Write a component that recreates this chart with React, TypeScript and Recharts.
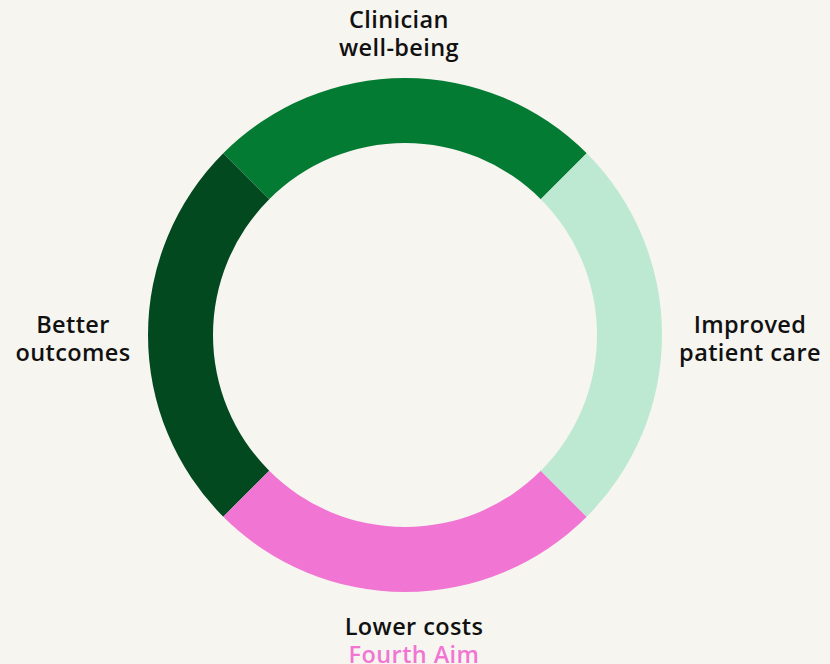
import { PieChart, Pie, Cell } from "recharts";

const aims = ["Clinician well-being", "Better outcomes", "Lower costs", "Improved patient care"];
const shares = [25, 25, 25, 25];
const labelLines = [
  ["Clinician", "well-being"],
  ["Better", "outcomes"],
  ["Lower costs", "Fourth Aim"],
  ["Improved", "patient care"],
];
const COLORS = ["#037B33", "#03491F", "#F176D4", "#BDE9D3"];
const BG = "#F7F5EF";
const FONT = "'Open Sans', sans-serif";

const data = aims.map((name, i) => ({ name, value: shares[i] }));

function renderLabel(props: any) {
  const { cx, cy, midAngle, outerRadius, index } = props;
  const lines = labelLines[index];
  const rad = (-midAngle * Math.PI) / 180;
  const cos = Math.cos(rad);
  const sin = Math.sin(rad);
  let x = cx;
  let y = cy;
  if (Math.abs(cos) > 0.5) {
    // side labels: text block centred beside the ring
    x = cx + cos * (outerRadius + (cos > 0 ? 88 : 75));
    y = cy - 2;
  } else if (sin < 0) {
    // top label
    x = cx - 6;
    y = cy - outerRadius - 50;
  } else {
    x = cx + 9;
    y = cy + outerRadius + 43;
  }
  return (
    <text
      x={x}
      y={y}
      textAnchor="middle"
      fontFamily={FONT}
      fontSize={23.5}
      fontWeight={600}
      letterSpacing={0.4}
      fill="#111"
    >
      {lines.map((line, j) => (
        <tspan
          key={j}
          x={x}
          dy={j === 0 ? 0 : 28}
          fill={index === 2 && j === 1 ? "#F176D4" : "#111"}
        >
          {line}
        </tspan>
      ))}
    </text>
  );
}

export default function App() {
  return (
    <div style={{ position: "fixed", inset: 0, background: BG }}>
      <PieChart width={830} height={664} margin={{ top: 0, right: 0, bottom: 0, left: 0 }}>
        <Pie
          data={data}
          dataKey="value"
          nameKey="name"
          cx={405}
          cy={335}
          innerRadius={192}
          outerRadius={257}
          startAngle={45}
          endAngle={405}
          stroke="none"
          label={renderLabel}
          labelLine={false}
          isAnimationActive={false}
        >
          {data.map((_, i) => (
            <Cell key={i} fill={COLORS[i]} />
          ))}
        </Pie>
      </PieChart>
    </div>
  );
}
